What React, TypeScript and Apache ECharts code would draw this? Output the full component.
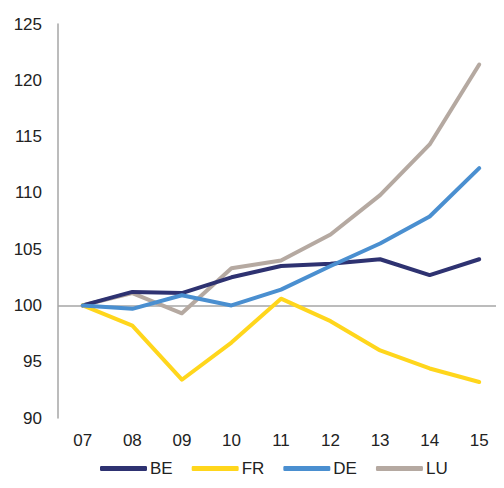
import { useEffect, useRef } from "react";
import * as echarts from "echarts";

const years = ["07", "08", "09", "10", "11", "12", "13", "14", "15"];
const be = [100, 101.2, 101.1, 102.5, 103.5, 103.7, 104.1, 102.7, 104.1];
const fr = [100, 98.2, 93.4, 96.7, 100.6, 98.6, 96.0, 94.4, 93.2];
const de = [100, 99.7, 100.9, 100.0, 101.4, 103.5, 105.5, 107.9, 112.2];
const lu = [100, 101.1, 99.3, 103.3, 104.0, 106.3, 109.8, 114.3, 121.4];

const seriesDefs = [
  { name: "BE", data: be, color: "#2e3271" },
  { name: "FR", data: fr, color: "#ffd61c" },
  { name: "DE", data: de, color: "#4a8fd0" },
  { name: "LU", data: lu, color: "#b5a9a1" },
];

export default function App() {
  const ref = useRef<HTMLDivElement>(null);
  useEffect(() => {
    if (!ref.current) return;
    const chart = echarts.init(ref.current, null, { renderer: "svg" });
    const font = "Liberation Sans, Arial, sans-serif";
    chart.setOption({
      animation: false,
      grid: { left: 58, top: 24, width: 459, height: 394 },
      legend: {
        top: 455,
        left: 95,
        icon: "roundRect",
        itemWidth: 47,
        itemHeight: 5,
        itemGap: 19,
        textStyle: { fontFamily: font, fontSize: 17, color: "#222", padding: [0, 0, 0, -2] },
        data: seriesDefs.map((s) => s.name),
      },
      xAxis: {
        type: "category",
        data: years,
        axisLine: { show: false },
        axisTick: { show: false },
        axisLabel: { fontFamily: font, fontSize: 17, color: "#222", margin: 14 },
      },
      yAxis: {
        type: "value",
        min: 90,
        max: 125,
        interval: 5,
        axisLine: { show: true, lineStyle: { color: "#a6a6a6", width: 1.5 } },
        axisTick: { show: false },
        splitLine: { show: false },
        axisLabel: { fontFamily: font, fontSize: 17, color: "#222", margin: 16 },
      },
      series: seriesDefs.map((s, i) => ({
        name: s.name,
        type: "line",
        data: s.data,
        symbol: "none",
        z: i === 3 ? 2 : 3,
        lineStyle: { color: s.color, width: 4, cap: "round", join: "round" },
        itemStyle: { color: s.color },
        markLine:
          i === 0
            ? {
                silent: true,
                symbol: "none",
                label: { show: false },
                lineStyle: { color: "#a6a6a6", width: 1.5, type: "solid" },
                data: [{ yAxis: 100 }],
                z: 1,
              }
            : undefined,
      })),
    });
    return () => chart.dispose();
  }, []);
  return <div ref={ref} style={{ width: 504, height: 488, margin: -8 }} />;
}
